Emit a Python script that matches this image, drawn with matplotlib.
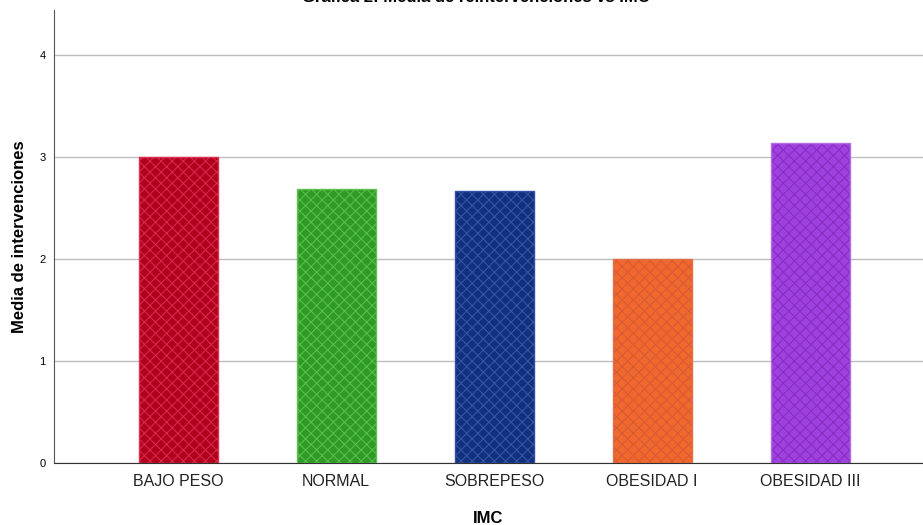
import matplotlib
matplotlib.use("Agg")
import matplotlib.pyplot as plt

plt.rcParams["font.family"] = ["Liberation Sans", "DejaVu Sans"]
plt.rcParams["hatch.linewidth"] = 0.8

categories = ["BAJO PESO", "NORMAL", "SOBREPESO", "OBESIDAD I", "OBESIDAD III"]
means = [3.0, 2.69, 2.67, 2.0, 3.14]
fills = ["#b0001e", "#2f9a27", "#13307e", "#f0682c", "#a040e0"]
hatches = ["#d8284a", "#58be48", "#3454a8", "#d85a36", "#8430c0"]
edges = ["#e03050", "#60c050", "#3050a8", "#e0704a", "#b070e0"]

fig = plt.figure(figsize=(9.23, 5.25), dpi=100)
ax = fig.add_axes([54 / 923, 1 - 463 / 525, 1 - 54 / 923, 453 / 525])

x = range(len(categories))
ax.bar(x, means, width=0.5, color=fills, linewidth=0, zorder=2)
for xi, v, hc in zip(x, means, hatches):
    ax.bar(xi, v, width=0.5, color="none", edgecolor=hc, hatch="xxx", linewidth=0, zorder=3)
ax.bar(x, means, width=0.5, color="none", edgecolor=edges, linewidth=1.0, zorder=4)

ax.set_xlim(-0.785, 4.715)
ax.set_ylim(0, 4.44)
ax.set_yticks([0, 1, 2, 3, 4])
ax.set_xticks(list(x))
ax.set_xticklabels(categories, fontsize=11.5, color="#222222")
ax.tick_params(axis="y", labelsize=8, length=0, pad=6)
ax.tick_params(axis="x", length=0, pad=8)
ax.yaxis.grid(True, color="#bdbdbd", linewidth=1.0, zorder=0)
ax.set_axisbelow(True)

for s in ["top", "right"]:
    ax.spines[s].set_visible(False)
ax.spines["left"].set_color("#555555")
ax.spines["bottom"].set_color("#333333")

ax.set_ylabel("Media de intervenciones", fontsize=12, fontweight="bold", labelpad=9)
ax.set_xlabel("IMC", fontsize=12, fontweight="bold", labelpad=16)
fig.text(0.515, 1.004, "Grafica 2: Media de reintervenciones vs IMC", ha="center", va="center",
         fontsize=12, fontweight="bold")

fig.savefig("out.png", dpi=100)
